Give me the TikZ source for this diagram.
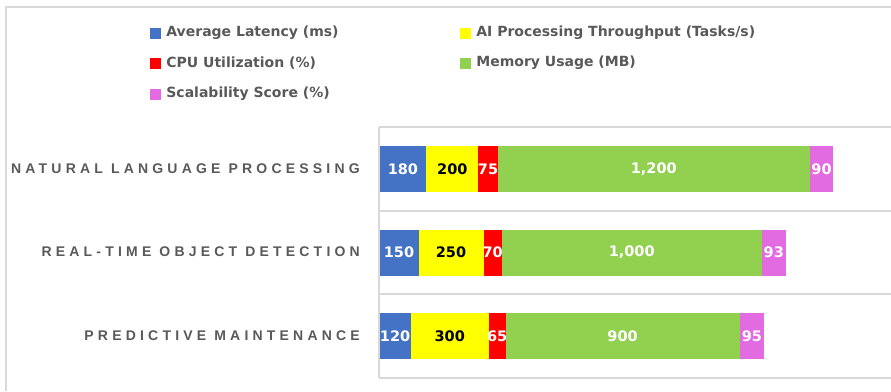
\documentclass[tikz,border=0pt]{standalone}
\usepackage{fontspec}
\setmainfont{DejaVu Sans}
\newfontfamily\legendfont{DejaVu Sans}
\newfontfamily\catfont[LetterSpace=30]{Liberation Sans}
\usepackage{tikz}
\usetikzlibrary{positioning}
\definecolor{latblue}{HTML}{4472C4}
\definecolor{tputyellow}{HTML}{FFFF00}
\definecolor{cpured}{HTML}{FF0000}
\definecolor{memgreen}{HTML}{92D050}
\definecolor{scalepink}{HTML}{E26BE2}
\definecolor{labelgray}{HTML}{595959}
\definecolor{gridgray}{HTML}{D9D9D9}

\begin{document}
\begin{tikzpicture}[
  x=1pt, y=-1pt,
  seg/.style={inner sep=0pt, outer sep=0pt, minimum height=46pt, font=\bfseries\fontsize{14.5}{14.5}\selectfont, text=white},
  latseg/.style={seg, fill=latblue, minimum width=#1*0.26pt},
  tputseg/.style={seg, fill=tputyellow, text=black, minimum width=#1*0.26pt},
  cpuseg/.style={seg, fill=cpured, minimum width=#1*0.26pt},
  memseg/.style={seg, fill=memgreen, minimum width=#1*0.26pt},
  scaleseg/.style={seg, fill=scalepink, minimum width=#1*0.26pt},
  key/.style={inner sep=0pt, minimum size=11pt},
  keytext/.style={anchor=west, inner sep=0pt, text=labelgray, font=\legendfont\bfseries\fontsize{14}{14}\selectfont},
  cat/.style={anchor=east, inner sep=0pt, text=labelgray, font=\catfont\bfseries\fontsize{14}{14}\selectfont},
  gridline/.style={draw=gridgray, line width=1.2pt}
]
  \useasboundingbox (0,0) rectangle (891,391);

  % Chart frame and grid
  \draw[gridline] (6,391) -- (6,7) -- (891,7);
  \draw[gridline] (379,127) -- (379,378);
  \draw[gridline] (379,127) -- (891,127);
  \draw[gridline] (379,211) -- (891,211);
  \draw[gridline] (379,294) -- (891,294);
  \draw[gridline] (379,378) -- (891,378);

  % Legend
  \node[key, fill=latblue] (k1) at (155.5,33) {};
  \node[keytext, right=5pt of k1] {Average Latency (ms)};
  \node[key, fill=tputyellow] (k2) at (465.5,33) {};
  \node[keytext, right=5pt of k2] {AI Processing Throughput (Tasks/s)};
  \node[key, fill=cpured] (k3) at (155.5,63) {};
  \node[keytext, right=5pt of k3] {CPU Utilization (\%)};
  \node[key, fill=memgreen] (k4) at (465.5,63) {};
  \node[keytext, right=5pt of k4] {Memory Usage (MB)};
  \node[key, fill=scalepink] (k5) at (155.5,94) {};
  \node[keytext, right=5pt of k5] {Scalability Score (\%)};

  % Categories
  \node[cat] (nlp) at (360,169) {NATURAL LANGUAGE PROCESSING};
  \node[cat] (rtod) at (360,252) {REAL-TIME OBJECT DETECTION};
  \node[cat] (pm) at (360,336) {PREDICTIVE MAINTENANCE};

  % Stacked bars
  \node[latseg=180, anchor=west] (nlp1) at (379.5,169) {\makebox[0pt]{180}};
  \node[tputseg=200, right=0pt of nlp1] (nlp2) {\makebox[0pt]{200}};
  \node[cpuseg=75, right=0pt of nlp2] (nlp3) {\makebox[0pt]{75}};
  \node[memseg=1200, right=0pt of nlp3] (nlp4) {\makebox[0pt]{1,200}};
  \node[scaleseg=90, right=0pt of nlp4] (nlp5) {\makebox[0pt]{90}};

  \node[latseg=150, anchor=west] (rtod1) at (379.5,252.5) {\makebox[0pt]{150}};
  \node[tputseg=250, right=0pt of rtod1] (rtod2) {\makebox[0pt]{250}};
  \node[cpuseg=70, right=0pt of rtod2] (rtod3) {\makebox[0pt]{70}};
  \node[memseg=1000, right=0pt of rtod3] (rtod4) {\makebox[0pt]{1,000}};
  \node[scaleseg=93, right=0pt of rtod4] (rtod5) {\makebox[0pt]{93}};

  \node[latseg=120, anchor=west] (pm1) at (379.5,336) {\makebox[0pt]{120}};
  \node[tputseg=300, right=0pt of pm1] (pm2) {\makebox[0pt]{300}};
  \node[cpuseg=65, right=0pt of pm2] (pm3) {\makebox[0pt]{65}};
  \node[memseg=900, right=0pt of pm3] (pm4) {\makebox[0pt]{900}};
  \node[scaleseg=95, right=0pt of pm4] (pm5) {\makebox[0pt]{95}};

\end{tikzpicture}
\end{document}
